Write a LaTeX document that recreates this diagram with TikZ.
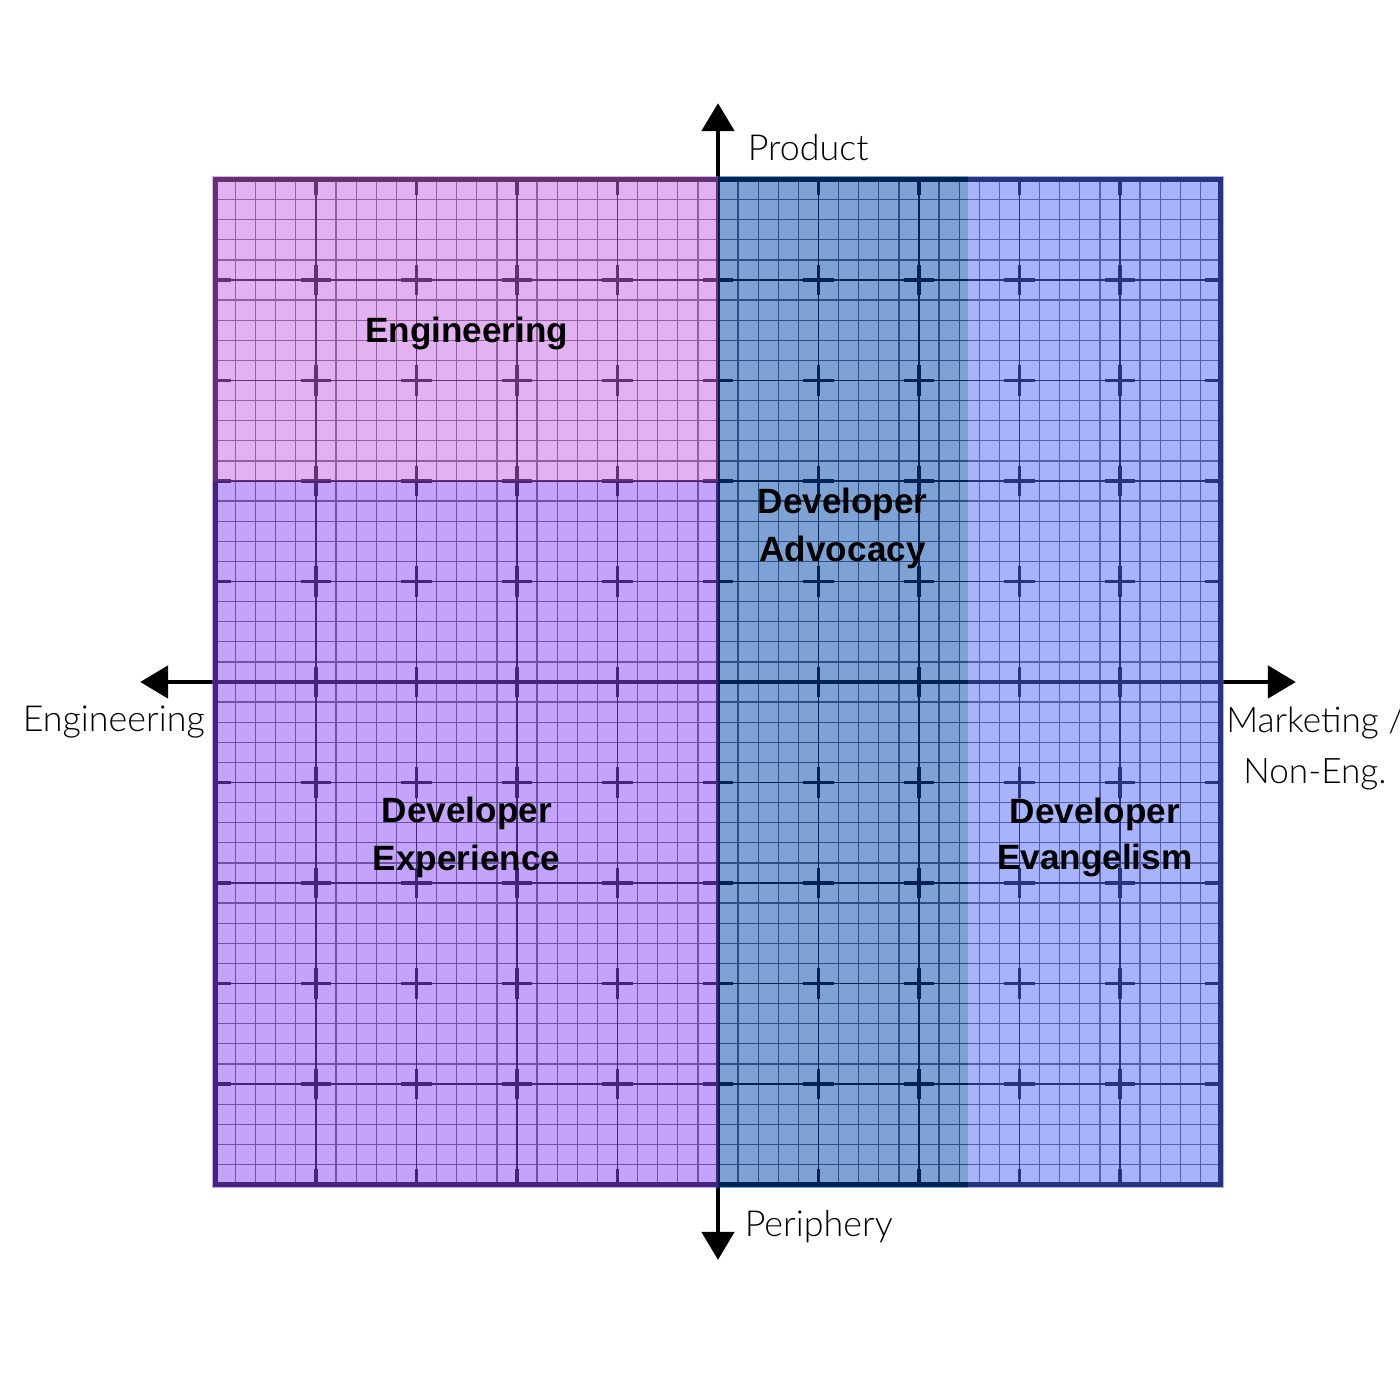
\documentclass[tikz,border=0pt]{standalone}
\usepackage{fontspec}
\usepackage{tikz}
\usetikzlibrary{arrows.meta, positioning}
\newfontfamily\axisfont{Lato Light}
\newfontfamily\zonefont{Liberation Sans}[UprightFont=* Bold]
\definecolor{zonepink}{RGB}{199, 103, 227}
\definecolor{zonepurple}{RGB}{137, 75, 247}
\definecolor{zonenavy}{RGB}{0, 71, 173}
\definecolor{zoneblue}{RGB}{81, 105, 249}

\begin{document}
\begin{tikzpicture}[x=1.005cm, y=1.005cm, >={Triangle[length=2.8mm, width=3.2mm]},
    zone/.style={font=\zonefont\fontsize{10}{13.7}\selectfont, align=center, inner sep=0pt},
    axislabel/.style={font=\axisfont\fontsize{10.2}{14.5}\selectfont, align=center, inner sep=0pt},
    overlay/.style={fill opacity=0.5}]
  \useasboundingbox[fill=white] (-7.144,-7.144) rectangle (6.786,6.786);
  \coordinate (O) at (0,0);
  \coordinate (SW) at (-5,-5);
  \coordinate (NE) at (5,5);
  \coordinate (west) at (-5.75,0);
  \coordinate (east) at (5.75,0);
  \coordinate (south) at (0,-5.75);
  \coordinate (north) at (0,5.76);

  % grid, ticks and axes in black, tinted afterwards
  \draw[black!65, line width=0.35pt, step=0.2] (SW) grid (NE);
  \draw[black, line width=0.45pt, step=1] (SW) grid (NE);
  \begin{scope}
    \clip (SW) rectangle (NE);
    \foreach \i in {-5,...,5}
      \foreach \j in {-5,...,5}
        \draw[line width=1pt] ({\i-0.15},\j) -- ({\i+0.15},\j) (\i,{\j-0.15}) -- (\i,{\j+0.15});
  \end{scope}
  \draw[line width=1.2pt] (SW) rectangle (NE);
  \draw[<->, line width=1.4pt] (west) -- (east);
  \draw[<->, line width=1.4pt] (south) -- (north);

  \fill[zonepink, overlay] (-5.03,2) rectangle (0,5.03);
  \fill[zonepurple, overlay] (-5.03,-5.03) rectangle (0,2);
  \fill[zonenavy, overlay] (0,-5.03) rectangle (2.49,5.03);
  \fill[zoneblue, overlay] (2.49,-5.03) rectangle (5.03,5.03);

  \node[zone] (engzone) at (-2.5,3.47) {Engineering};
  \node[zone] (advzone) at (1.24,1.53) {Developer\\Advocacy};
  \node[zone] (expzone) at (-2.5,-1.55) {Developer\\Experience};
  \node[zone, font=\zonefont\fontsize{10}{13}\selectfont] (evazone) at (3.75,-1.55) {Developer\\Evangelism};

  \node[axislabel, anchor=west] (product) at (0.29,5.32) {Product};
  \node[axislabel, anchor=west] (periphery) at (0.26,-5.42) {Periphery};
  \node[axislabel, anchor=east] (engaxis) at (-5.1,-0.4) {Engineering};
  \node[axislabel, font=\axisfont\fontsize{10}{14.5}\selectfont] (mktaxis) at (5.94,-0.66) {Marketing /\\Non-Eng.};
\end{tikzpicture}
\end{document}
